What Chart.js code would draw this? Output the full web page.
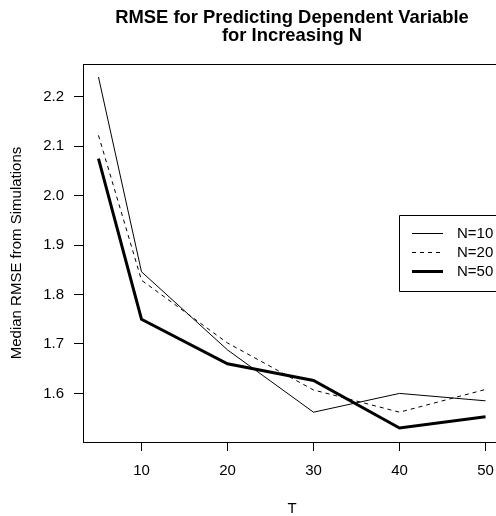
<!DOCTYPE html>
<html>
<head>
<meta charset="utf-8">
<script src="https://cdn.jsdelivr.net/npm/chart.js@4/dist/chart.umd.min.js"></script>
<style>
html,body{margin:0;padding:0;background:#fff;overflow:hidden;}
canvas{display:block;}
</style>
</head>
<body>
<canvas id="c" width="496" height="516"></canvas>
<script>
const T = [5, 10, 20, 30, 40, 50];
const N10 = [2.240, 1.846, 1.688, 1.562, 1.600, 1.585];
const N20 = [2.122, 1.829, 1.702, 1.607, 1.562, 1.608];
const N50 = [2.075, 1.750, 1.660, 1.626, 1.530, 1.553];
const seriesLabels = ['N=10', 'N=20', 'N=50'];
const xTicks = [10, 20, 30, 40, 50];
const yTicks = [1.6, 1.7, 1.8, 1.9, 2.0, 2.1, 2.2];
const titleLines = ['RMSE for Predicting Dependent Variable', 'for Increasing N'];
const xTitle = 'T';
const yTitle = 'Median RMSE from Simulations';

const FONT = "'Liberation Sans', Arial, Helvetica, sans-serif";
const PLOT_RIGHT = 501; // plot region extends a little past the window edge

const pts = arr => T.map((t, i) => ({x: t, y: arr[i]}));

const extendPlugin = {
  id: 'extendRight',
  afterLayout(chart) {
    const a = chart.chartArea;
    a.right = PLOT_RIGHT;
    a.width = a.right - a.left;
    const s = chart.scales.x;
    s.right = PLOT_RIGHT;
    s.width = s.right - s.left;
    s.configure();
  }
};

const boxPlugin = {
  id: 'boxLegend',
  afterDatasetsDraw(chart) {
    const {ctx, chartArea: a} = chart;
    ctx.save();
    ctx.strokeStyle = '#000';
    ctx.lineWidth = 1;
    const L = Math.round(a.left) + 0.5, Tp = Math.round(a.top) + 0.5, B = Math.round(a.bottom) + 0.5, R = a.right + 1;
    ctx.beginPath();
    ctx.moveTo(R, Tp); ctx.lineTo(L, Tp); ctx.lineTo(L, B);
    ctx.stroke();
    // title centred over the plot region
    ctx.fillStyle = '#000';
    ctx.font = 'bold 18.4px ' + FONT;
    ctx.textAlign = 'center';
    ctx.textBaseline = 'alphabetic';
    const cx = (a.left + a.right) / 2;
    ctx.fillText(titleLines[0], cx, 22.5);
    ctx.fillText(titleLines[1], cx, 40.8);
    // legend
    const lx = 399.5, ly = 215.5, lh = 76;
    ctx.fillStyle = '#fff';
    ctx.fillRect(lx, ly, a.right - lx, lh);
    ctx.beginPath();
    ctx.moveTo(R, ly); ctx.lineTo(lx, ly); ctx.lineTo(lx, ly + lh); ctx.lineTo(R, ly + lh);
    ctx.stroke();
    ctx.font = '15px ' + FONT;
    ctx.textBaseline = 'middle';
    ctx.textAlign = 'left';
    const rows = [233.5, 252.5, 271.5];
    chart.data.datasets.forEach((ds, i) => {
      ctx.beginPath();
      ctx.setLineDash(ds.borderDash || []);
      ctx.lineWidth = ds.borderWidth;
      ctx.strokeStyle = '#000';
      ctx.moveTo(412, rows[i]);
      ctx.lineTo(443, rows[i]);
      ctx.stroke();
      ctx.setLineDash([]);
      ctx.fillStyle = '#000';
      ctx.fillText(ds.label, 457, rows[i] + 0.5);
    });
    ctx.restore();
  }
};

new Chart(document.getElementById('c'), {
  type: 'line',
  data: {
    datasets: [
      {label: seriesLabels[0], data: pts(N10), borderColor: '#000', borderWidth: 1, pointRadius: 0, tension: 0, fill: false},
      {label: seriesLabels[1], data: pts(N20), borderColor: '#000', borderWidth: 1, borderDash: [4, 4], pointRadius: 0, tension: 0, fill: false},
      {label: seriesLabels[2], data: pts(N50), borderColor: '#000', borderWidth: 3, pointRadius: 0, tension: 0, fill: false}
    ]
  },
  options: {
    responsive: false,
    animation: false,
    events: [],
    layout: {padding: {left: 0, right: 0, top: 64, bottom: 0}},
    plugins: {
      legend: {display: false},
      tooltip: {enabled: false},
      title: {display: false}
    },
    scales: {
      x: {
        type: 'linear',
        min: 3.2, max: 51.8,
        afterBuildTicks: s => { s.ticks = xTicks.map(v => ({value: v})); },
        afterFit: s => { s.height = 74; s.paddingLeft = 0; s.paddingRight = 0; },
        grid: {display: true, drawOnChartArea: false, drawTicks: true, tickLength: 9, color: '#000', lineWidth: 1},
        border: {display: true, color: '#000', width: 1},
        ticks: {color: '#000', font: {family: FONT, size: 15}, padding: 11, maxRotation: 0, autoSkip: false},
        title: {display: true, text: xTitle, color: '#000', font: {family: FONT, size: 15, lineHeight: 1}, padding: {top: 0, bottom: 0}}
      },
      y: {
        type: 'linear',
        min: 1.5017, max: 2.2663,
        afterBuildTicks: s => { s.ticks = yTicks.map(v => ({value: v})); },
        afterFit: s => { s.width = 83; s.paddingTop = 0; s.paddingBottom = 0; },
        grid: {display: true, drawOnChartArea: false, drawTicks: true, tickLength: 9, color: '#000', lineWidth: 1},
        border: {display: true, color: '#000', width: 1},
        ticks: {color: '#000', font: {family: FONT, size: 15}, padding: 10, callback: v => v.toFixed(1), autoSkip: false},
        title: {display: true, text: yTitle, color: '#000', font: {family: FONT, size: 15, lineHeight: 1.2}, padding: {top: 8, bottom: 0}}
      }
    }
  },
  plugins: [extendPlugin, boxPlugin]
});
</script>
</body>
</html>
